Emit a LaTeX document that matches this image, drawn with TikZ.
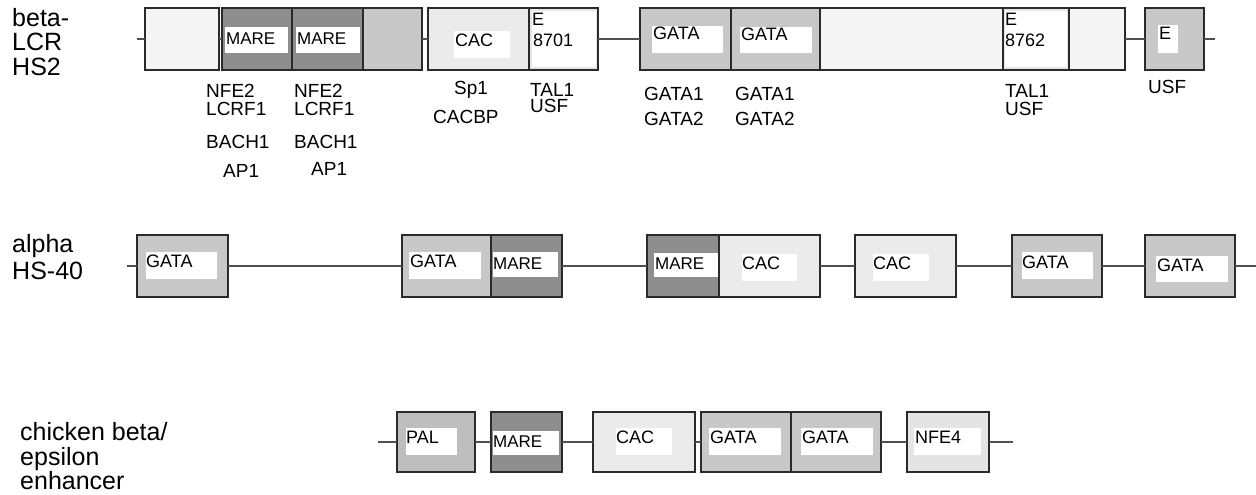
\documentclass[tikz,border=0pt]{standalone}
\usepackage{fontspec}
\setmainfont{Liberation Sans}
\definecolor{vlight}{HTML}{F5F5F5}
\definecolor{light}{HTML}{EBEBEB}
\definecolor{mid}{HTML}{C8C8C8}
\definecolor{pal}{HTML}{BEBEBE}
\definecolor{dark}{HTML}{8E8E8E}
\definecolor{nfe}{HTML}{E4E4E4}
\definecolor{eframe}{HTML}{E6E6E6}
\definecolor{boxline}{HTML}{2A2A2A}
\definecolor{connline}{HTML}{505050}
\tikzset{
  box/.style={draw=boxline, line width=1.7pt, inner sep=0pt, outer sep=0pt, anchor=north west},
  wbox/.style={fill=white, inner sep=0pt, outer sep=0pt, anchor=north west},
  intext/.style={inner sep=0pt, anchor=base west, font=\fontsize{18}{18}\selectfont},
  mtext/.style={inner sep=0pt, anchor=base west, font=\fontsize{17}{17}\selectfont},
  lab/.style={inner sep=0pt, anchor=base west, font=\fontsize{19}{19}\selectfont},
  big/.style={inner sep=0pt, anchor=base west, font=\fontsize{25}{25}\selectfont},
  conn/.style={draw=connline, line width=1.4pt},
}
\begin{document}
\begin{tikzpicture}[x=1pt,y=-1pt]
\useasboundingbox (0,0) rectangle (1256,495);

% ---------------- left labels ----------------
\node[big] (t1a) at (12,27) {beta-};
\node[big] (t1b) at (12,51) {LCR};
\node[big] (t1c) at (12,75) {HS2};
\node[big] (t2a) at (12,252) {alpha};
\node[big] (t2b) at (12,279) {HS-40};
\node[big] (t3a) at (20,440) {chicken beta/};
\node[big] (t3b) at (20,465) {epsilon};
\node[big] (t3c) at (20,489) {enhancer};

% ---------------- row 1 ----------------
\coordinate (r1s) at (137,39);
\coordinate (r1e) at (1215,39);
\node[box, fill=vlight, minimum width=74pt, minimum height=62pt] (a1) at (145,8) {};
\node[box, fill=dark, minimum width=70pt, minimum height=62pt] (a2) at (222,8) {};
\node[box, fill=dark, minimum width=71pt, minimum height=62pt] (a3) at (292,8) {};
\node[box, fill=mid, minimum width=59pt, minimum height=62pt] (a4) at (363,8) {};
\node[box, fill=light, minimum width=101pt, minimum height=62pt] (a5) at (428,8) {};
\node[box, fill=eframe, minimum width=69pt, minimum height=62pt] (a6) at (529,8) {};
\node[box, fill=mid, minimum width=91pt, minimum height=62pt] (a7) at (640,8) {};
\node[box, fill=mid, minimum width=89pt, minimum height=62pt] (a8) at (731,8) {};
\node[box, fill=vlight, minimum width=183pt, minimum height=62pt] (a9) at (820,8) {};
\node[box, fill=eframe, minimum width=66pt, minimum height=62pt] (a10) at (1003,8) {};
\node[box, fill=vlight, minimum width=56pt, minimum height=62pt] (a11) at (1069,8) {};
\node[box, fill=mid, minimum width=59pt, minimum height=62pt] (a12) at (1145,8) {};
\draw[conn] (r1s) -- (a1.west);
\draw[conn] (a1.east) -- (a2.west);
\draw[conn] (a4.east) -- (a5.west);
\draw[conn] (a6.east) -- (a7.west);
\draw[conn] (a11.east) -- (a12.west);
\draw[conn] (a12.east) -- (r1e);

\node[wbox, minimum width=63pt, minimum height=26pt] (w2) at (225,27) {};
\node[mtext] (x2) at (226,45) {MARE};
\node[wbox, minimum width=64pt, minimum height=26pt] (w3) at (296,27) {};
\node[mtext] (x3) at (297,45) {MARE};
\node[wbox, minimum width=56pt, minimum height=27pt] (w5) at (454,31) {};
\node[intext] (x5) at (455,47) {CAC};
\node[wbox, minimum width=64pt, minimum height=56pt] (w6) at (532,11) {};
\node[intext] (x6a) at (532,26) {E};
\node[intext] (x6b) at (533,47) {8701};
\node[wbox, minimum width=71pt, minimum height=27pt] (w7) at (652,26) {};
\node[intext] (x7) at (653,40) {GATA};
\node[wbox, minimum width=72pt, minimum height=26pt] (w8) at (740,27) {};
\node[intext] (x8) at (741,41) {GATA};
\node[wbox, minimum width=62pt, minimum height=56pt] (w10) at (1005,11) {};
\node[intext] (x10a) at (1005,26) {E};
\node[intext] (x10b) at (1005,47) {8762};
\node[wbox, minimum width=20pt, minimum height=28pt] (w12) at (1158,25) {};
\node[intext] (x12) at (1159,40) {E};

\node[lab] (l1) at (206,97) {NFE2};
\node[lab] (l2) at (206,115) {LCRF1};
\node[lab] (l3) at (206,148) {BACH1};
\node[lab] (l4) at (223,177) {AP1};
\node[lab] (l5) at (294,97) {NFE2};
\node[lab] (l6) at (294,115) {LCRF1};
\node[lab] (l7) at (294,148) {BACH1};
\node[lab] (l8) at (311,175) {AP1};
\node[lab] (l9) at (454,95) {Sp1};
\node[lab] (l10) at (433,123) {CACBP};
\node[lab] (l11) at (530,96) {TAL1};
\node[lab] (l12) at (530,113) {USF};
\node[lab] (l13) at (644,100) {GATA1};
\node[lab] (l14) at (644,125) {GATA2};
\node[lab] (l15) at (735,100) {GATA1};
\node[lab] (l16) at (735,125) {GATA2};
\node[lab] (l17) at (1005,97) {TAL1};
\node[lab] (l18) at (1005,115) {USF};
\node[lab] (l19) at (1148,93) {USF};

% ---------------- row 2 ----------------
\coordinate (r2s) at (127,266);
\coordinate (r2e) at (1256,266);
\node[box, fill=mid, minimum width=91pt, minimum height=62pt] (b1) at (137,235) {};
\node[box, fill=mid, minimum width=89pt, minimum height=62pt] (b2) at (402,235) {};
\node[box, fill=dark, minimum width=71pt, minimum height=62pt] (b3) at (491,235) {};
\node[box, fill=dark, minimum width=72pt, minimum height=62pt] (b4) at (647,235) {};
\node[box, fill=light, minimum width=101pt, minimum height=62pt] (b5) at (719,235) {};
\node[box, fill=light, minimum width=101pt, minimum height=62pt] (b6) at (855,235) {};
\node[box, fill=mid, minimum width=90pt, minimum height=62pt] (b7) at (1012,235) {};
\node[box, fill=mid, minimum width=90pt, minimum height=62pt] (b8) at (1145,235) {};
\draw[conn] (r2s) -- (b1.west);
\draw[conn] (b1.east) -- (b2.west);
\draw[conn] (b3.east) -- (b4.west);
\draw[conn] (b5.east) -- (b6.west);
\draw[conn] (b6.east) -- (b7.west);
\draw[conn] (b7.east) -- (b8.west);
\draw[conn] (b8.east) -- (r2e);

\node[wbox, minimum width=71pt, minimum height=27pt] (v1) at (146,252) {};
\node[intext] (y1) at (146,267) {GATA};
\node[wbox, minimum width=72pt, minimum height=27pt] (v2) at (409,252) {};
\node[intext] (y2) at (410,267) {GATA};
\node[wbox, minimum width=65pt, minimum height=25pt] (v3) at (493,252) {};
\node[mtext] (y3) at (493,269) {MARE};
\node[wbox, minimum width=64pt, minimum height=24pt] (v4) at (654,253) {};
\node[mtext] (y4) at (655,269) {MARE};
\node[wbox, minimum width=55pt, minimum height=27pt] (v5) at (742,254) {};
\node[intext] (y5) at (742,269) {CAC};
\node[wbox, minimum width=56pt, minimum height=27pt] (v6) at (873,254) {};
\node[intext] (y6) at (873,269) {CAC};
\node[wbox, minimum width=71pt, minimum height=27pt] (v7) at (1022,252) {};
\node[intext] (y7) at (1022,268) {GATA};
\node[wbox, minimum width=72pt, minimum height=26pt] (v8) at (1156,256) {};
\node[intext] (y8) at (1157,271) {GATA};

% ---------------- row 3 ----------------
\coordinate (r3s) at (378,442);
\coordinate (r3e) at (1013,442);
\node[box, fill=pal, minimum width=78pt, minimum height=60pt] (c1) at (397,412) {};
\node[box, fill=dark, minimum width=71pt, minimum height=60pt] (c2) at (491,412) {};
\node[box, fill=light, minimum width=102pt, minimum height=60pt] (c3) at (593,412) {};
\node[box, fill=mid, minimum width=90pt, minimum height=60pt] (c4) at (701,412) {};
\node[box, fill=mid, minimum width=90pt, minimum height=60pt] (c5) at (791,412) {};
\node[box, fill=nfe, minimum width=82pt, minimum height=60pt] (c6) at (907,412) {};
\draw[conn] (r3s) -- (c1.west);
\draw[conn] (c1.east) -- (c2.west);
\draw[conn] (c2.east) -- (c3.west);
\draw[conn] (c3.east) -- (c4.west);
\draw[conn] (c5.east) -- (c6.west);
\draw[conn] (c6.east) -- (r3e);

\node[wbox, minimum width=51pt, minimum height=27pt] (u1) at (406,428) {};
\node[intext] (z1) at (406,443) {PAL};
\node[wbox, minimum width=66pt, minimum height=24pt] (u2) at (493,431) {};
\node[mtext] (z2) at (493,447) {MARE};
\node[wbox, minimum width=56pt, minimum height=27pt] (u3) at (616,428) {};
\node[intext] (z3) at (616,443) {CAC};
\node[wbox, minimum width=72pt, minimum height=27pt] (u4) at (709,428) {};
\node[intext] (z4) at (710,443) {GATA};
\node[wbox, minimum width=72pt, minimum height=27pt] (u5) at (801,428) {};
\node[intext] (z5) at (802,443) {GATA};
\node[wbox, minimum width=67pt, minimum height=27pt] (u6) at (914,428) {};
\node[intext] (z6) at (915,443) {NFE4};
\end{tikzpicture}
\end{document}
